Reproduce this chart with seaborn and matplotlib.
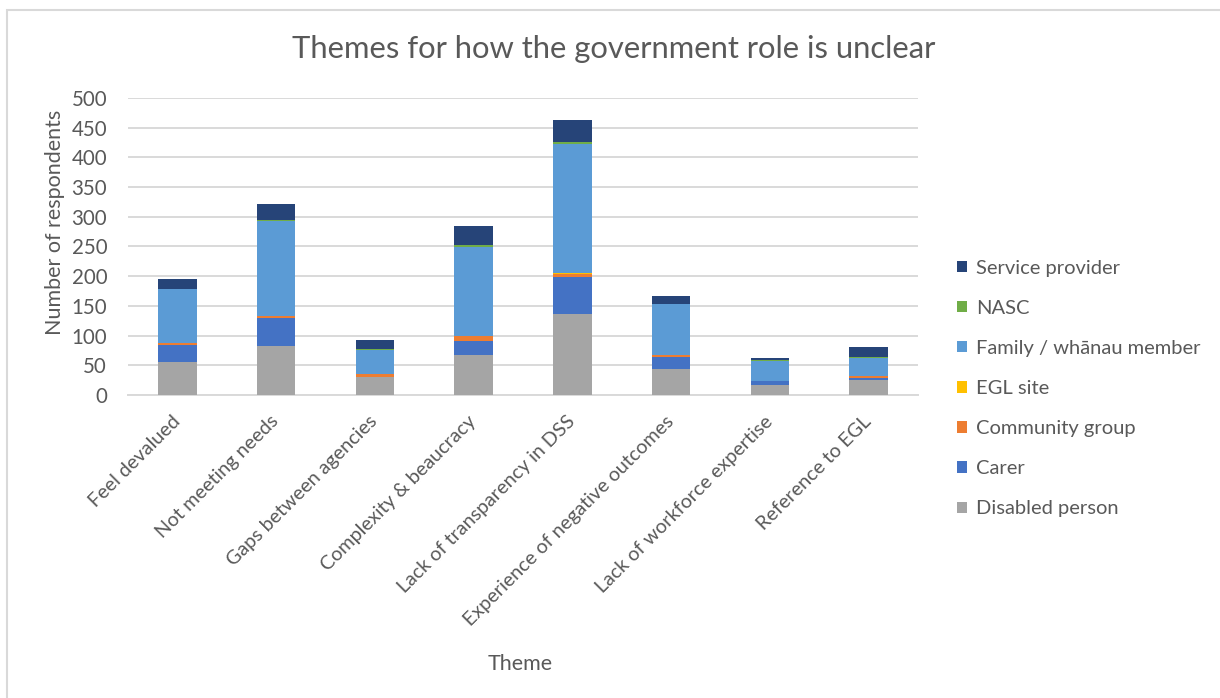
import numpy as np
import pandas as pd
import matplotlib
matplotlib.use("Agg")
import matplotlib.pyplot as plt
import seaborn as sns
from matplotlib.patches import Rectangle

# Themes (x categories)
themes = [
    "Feel devalued",
    "Not meeting needs",
    "Gaps between agencies",
    "Complexity & beaucracy",
    "Lack of transparency in DSS",
    "Experience of negative outcomes",
    "Lack of workforce expertise",
    "Reference to EGL",
]

# Respondent counts per group, in stacking order (bottom to top)
disabled_person = [56, 83, 30, 68, 136, 44, 17, 25]
carer = [28, 47, 1, 23, 62, 20, 6, 4]
community_group = [3, 3, 5, 9, 6, 4, 0, 3]
egl_site = [0, 0, 0, 0, 2, 0, 0, 0]
family_whanau = [91, 160, 40, 149, 216, 85, 35, 30]
nasc = [1, 2, 2, 3, 4, 0, 1, 2]
service_provider = [16, 27, 14, 33, 37, 14, 3, 17]

series_names = [
    "Disabled person",
    "Carer",
    "Community group",
    "EGL site",
    "Family / whānau member",
    "NASC",
    "Service provider",
]
series_values = [
    disabled_person,
    carer,
    community_group,
    egl_site,
    family_whanau,
    nasc,
    service_provider,
]
series_colors = [
    "#A5A5A5",
    "#4472C4",
    "#ED7D31",
    "#FFC000",
    "#5B9BD5",
    "#70AD47",
    "#264478",
]

y_ticks = [0, 50, 100, 150, 200, 250, 300, 350, 400, 450, 500]

sns.set_theme(style="white")
plt.rcParams["font.family"] = ["Lato", "DejaVu Sans"]
text_col = "#595959"

fig = plt.figure(figsize=(12.2, 6.98), dpi=100)
ax = fig.add_axes([0.1049, 0.4341, 0.6476, 0.4255])

# Stacked bars: draw the cumulative totals from the top layer down
cum = np.cumsum(np.array(series_values, dtype=float), axis=0)
for i in range(len(series_names) - 1, -1, -1):
    df = pd.DataFrame({"theme": themes, "value": cum[i]})
    sns.barplot(
        data=df, x="theme", y="value", color=series_colors[i],
        saturation=1, width=0.39, label=series_names[i], ax=ax,
        edgecolor="none", linewidth=0, zorder=3,
    )
if ax.get_legend() is not None:
    ax.get_legend().remove()

ax.set_ylim(0, 500)
ax.set_xlim(-0.5, len(themes) - 0.5)
ax.set_yticks(y_ticks)
ax.set_yticklabels([str(t) for t in y_ticks])
ax.yaxis.grid(True, color="#D9D9D9", linewidth=1.4, zorder=0)
ax.xaxis.grid(False)
for side in ["top", "right", "left"]:
    ax.spines[side].set_visible(False)
ax.spines["bottom"].set_color("#D9D9D9")
ax.spines["bottom"].set_linewidth(1.4)
ax.spines["bottom"].set_zorder(1)

ax.tick_params(axis="y", length=0, pad=15, labelsize=14.8, labelcolor=text_col)
ax.tick_params(axis="x", length=0, pad=17, labelsize=14.2, labelcolor=text_col)
for lab in ax.get_xticklabels():
    lab.set_rotation(45)
    lab.set_ha("right")
    lab.set_va("center")
    lab.set_rotation_mode("anchor")

ax.set_xlabel("Theme", fontsize=15.5, color=text_col)
ax.set_ylabel("Number of respondents", fontsize=15.5, color=text_col)
ax.xaxis.set_label_coords(0.497, -0.872)
ax.yaxis.set_label_coords(-0.093, 0.582)
ax.yaxis.label.set_va("center")

fig.text(0.503, 0.930, "Themes for how the government role is unclear",
         ha="center", va="center", fontsize=22.3, color=text_col)

handles, labels = ax.get_legend_handles_labels()
leg = fig.legend(
    handles, labels, loc="center left", bbox_to_anchor=(0.7845, 0.4434),
    frameon=False, fontsize=14.5, labelcolor=text_col,
    handlelength=0.5, handleheight=0.5, handletextpad=0.45,
    labelspacing=1.15, borderpad=0, borderaxespad=0,
)

# Light chart-area border (top and left edges fall inside the image)
fig.patches.append(Rectangle((6.5 / 1220, -20 / 698), 1300 / 1220, 708.5 / 698,
                             transform=fig.transFigure, fill=False,
                             edgecolor="#D9D9D9", linewidth=1.5))

fig.savefig("out.png", dpi=100)
